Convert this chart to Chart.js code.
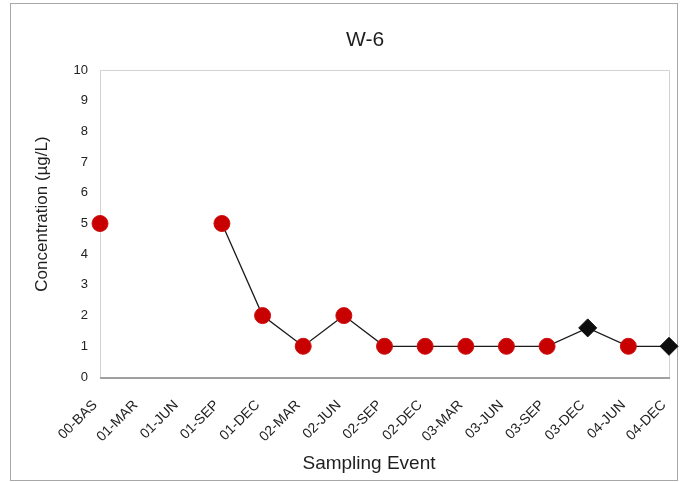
<!DOCTYPE html>
<html>
<head>
<meta charset="utf-8">
<title>W-6</title>
<script src="https://cdn.jsdelivr.net/npm/chart.js@4.4.1/dist/chart.umd.min.js"></script>
<style>
  html, body { margin: 0; padding: 0; background: #fff; }
  #wrap { width: 687px; height: 482px; position: relative; }
  canvas { display: block; }
</style>
</head>
<body>
<div id="wrap"><canvas id="chart" width="687" height="482"></canvas></div>
<script>
// Sampling events along the x axis
const samplingEvents = ['00-BAS', '01-MAR', '01-JUN', '01-SEP', '01-DEC', '02-MAR', '02-JUN',
  '02-SEP', '02-DEC', '03-MAR', '03-JUN', '03-SEP', '03-DEC', '04-JUN', '04-DEC'];

// Concentration per event (µg/L); null = not sampled
const concentration = [5, null, null, 5, 2, 1, 2, 1, 1, 1, 1, 1, 1.6, 1, 1];

// true = not detected (reporting limit shown as a black diamond)
const nonDetect = [false, false, false, false, false, false, false, false, false, false,
  false, false, true, false, true];

// Y axis range and step
const yMin = 0;
const yMax = 10;
const yStep = 1;

const chartTitle = 'W-6';
const xAxisTitle = 'Sampling Event';
const yAxisTitle = 'Concentration (µg/L)';

const FONT = "'Liberation Sans', Arial, Helvetica, sans-serif";

// Outer frame, plot box and the three captions
const framePlugin = {
  id: 'frame',
  beforeDraw(chart) {
    const { ctx, chartArea: a } = chart;
    ctx.save();
    ctx.fillStyle = '#fff';
    ctx.fillRect(0, 0, chart.width, chart.height);
    // outer border
    ctx.strokeStyle = '#a8a8a8';
    ctx.lineWidth = 1;
    ctx.strokeRect(10.5, 3.5, 667, 477);
    // plot area border
    ctx.strokeStyle = '#d2d2d2';
    ctx.beginPath();
    ctx.moveTo(a.left + 0.5, a.bottom);
    ctx.lineTo(a.left + 0.5, a.top + 0.5);
    ctx.lineTo(a.right + 0.5, a.top + 0.5);
    ctx.lineTo(a.right + 0.5, a.bottom);
    ctx.stroke();
    ctx.strokeStyle = '#a0a0a0';
    ctx.lineWidth = 2;
    ctx.beginPath();
    ctx.moveTo(a.left, a.bottom + 1);
    ctx.lineTo(a.right + 1, a.bottom + 1);
    ctx.stroke();
    ctx.restore();
  },
  afterDraw(chart) {
    const { ctx } = chart;
    ctx.save();
    ctx.fillStyle = '#1e1e1e';
    ctx.textAlign = 'center';
    ctx.textBaseline = 'middle';
    ctx.font = '21px ' + FONT;
    ctx.fillText(chartTitle, 365, 40);
    ctx.font = '19px ' + FONT;
    ctx.fillText(xAxisTitle, 369, 464);
    ctx.translate(42, 214);
    ctx.rotate(-Math.PI / 2);
    ctx.font = '17px ' + FONT;
    ctx.fillText(yAxisTitle, 0, 0);
    ctx.restore();
  }
};

new Chart(document.getElementById('chart'), {
  type: 'line',
  data: {
    labels: samplingEvents,
    datasets: [{
      label: 'W-6',
      data: concentration,
      spanGaps: false,
      clip: false,
      borderColor: '#1a1a1a',
      borderWidth: 1.3,
      tension: 0,
      pointStyle: c => nonDetect[c.dataIndex] ? 'rectRot' : 'circle',
      pointRadius: c => nonDetect[c.dataIndex] ? 9 : 8,
      pointHoverRadius: c => nonDetect[c.dataIndex] ? 9 : 8,
      pointBackgroundColor: c => nonDetect[c.dataIndex] ? '#0d0d0d' : '#c80000',
      pointBorderColor: c => nonDetect[c.dataIndex] ? '#0d0d0d' : '#d01010',
      pointBorderWidth: 1
    }]
  },
  options: {
    responsive: false,
    animation: false,
    devicePixelRatio: 1,
    layout: { padding: { left: 0, right: 18, top: 70, bottom: 0 } },
    plugins: {
      legend: { display: false },
      title: { display: false },
      tooltip: { enabled: false }
    },
    scales: {
      x: {
        type: 'category',
        offset: false,
        grid: { display: false, drawTicks: false },
        border: { display: false },
        ticks: {
          autoSkip: false,
          minRotation: 45,
          maxRotation: 45,
          padding: 20,
          labelOffset: -5,
          color: '#222',
          font: { family: FONT, size: 14 }
        },
        afterFit(scale) {
          scale.height = 105;
          scale.paddingLeft = 0;
          scale.paddingRight = 0;
        }
      },
      y: {
        min: yMin,
        max: yMax,
        grid: { display: false, drawTicks: false },
        border: { display: false },
        ticks: {
          stepSize: yStep,
          padding: 12,
          color: '#222',
          font: { family: FONT, size: 13 }
        },
        afterFit(scale) { scale.width = 100; }
      }
    }
  },
  plugins: [framePlugin]
});
</script>
</body>
</html>
